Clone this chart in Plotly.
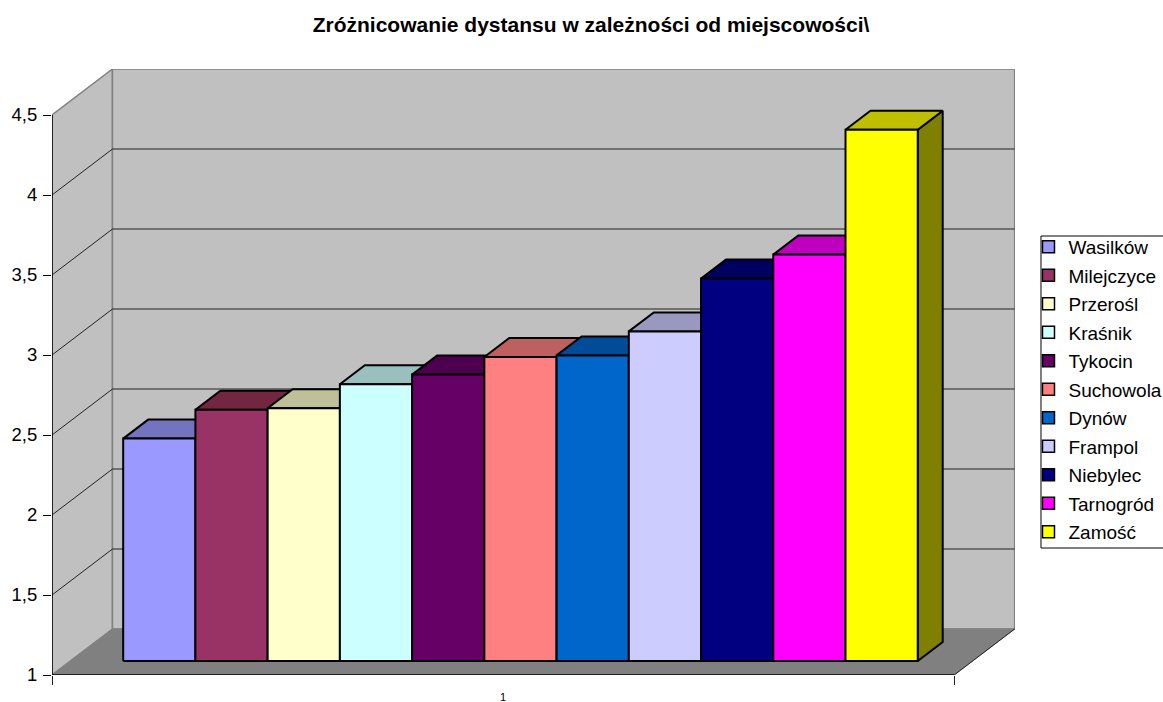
import plotly.graph_objects as go

towns = ["Wasilków", "Milejczyce", "Przerośl", "Kraśnik", "Tykocin", "Suchowola",
         "Dynów", "Frampol", "Niebylec", "Tarnogród", "Zamość"]
values = [2.39, 2.57, 2.58, 2.73, 2.79, 2.90, 2.91, 3.06, 3.39, 3.54, 4.32]
front_colors = ["#9999FF", "#993366", "#FFFFCC", "#CCFFFF", "#660066", "#FF8080",
                "#0066CC", "#CCCCFF", "#000080", "#FF00FF", "#FFFF00"]
top_colors = ["#7373BF", "#732640", "#BFBF99", "#99BFBF", "#4D004D", "#BF6060",
              "#004C99", "#9999BF", "#000060", "#BF00BF", "#BFBF00"]
side_colors = ["#4C4C80", "#4C1933", "#808066", "#668080", "#330033", "#804040",
               "#003366", "#666680", "#000040", "#800080", "#808000"]
y_ticks = [1, 1.5, 2, 2.5, 3, 3.5, 4, 4.5]
y_labels = ["1", "1,5", "2", "2,5", "3", "3,5", "4", "4,5"]
grid_levels = [1.5, 2, 2.5, 3, 3.5, 4]
category_label = "1"
title = "Zróżnicowanie dystansu w zależności od miejscowości\\"

# oblique projection of the 3D box into axis units
DX, DY = 0.837, 0.2875
SLOT_GAP = 0.731
AXIS_LEN = 12.49
D_FRONT, D_BACK = 0.304, 0.717
Y_BASE, Y_TOP = 1, 4.7875
L, R_EDGE, W, H = 51.5, 1015, 1163, 702
PLOT_W = R_EDGE - L
X_MAX = PLOT_W / 72.27


def pt(x, v, d):
    return x + d * DX, v + d * DY


def poly(points, fill, line="black", width=2, close=True):
    pts = [pt(*p) for p in points]
    if close:
        pts.append(pts[0])
    return go.Scatter(
        x=[p[0] for p in pts], y=[p[1] for p in pts], mode="lines",
        fill="toself" if fill else None, fillcolor=fill,
        line=dict(color=line, width=width), showlegend=False,
        hoverinfo="skip", cliponaxis=False,
    )


def xp(px):
    return (px - L) / PLOT_W


def yp(py):
    return (675 - py) / 606


fig = go.Figure()
WALL, FLOOR, EDGE = "#C0C0C0", "#808080", "#808080"
# side wall, back wall, floor
fig.add_trace(poly([(0, Y_BASE, 0), (0, 4.5, 0), (0, 4.5, 1), (0, Y_BASE, 1)], WALL, EDGE, 1.5))
fig.add_trace(poly([(0, Y_BASE, 1), (0, 4.5, 1), (AXIS_LEN, 4.5, 1), (AXIS_LEN, Y_BASE, 1)], WALL, EDGE, 1.5))
fig.add_trace(poly([(0, Y_BASE, 0), (AXIS_LEN, Y_BASE, 0), (AXIS_LEN, Y_BASE, 1), (0, Y_BASE, 1)], FLOOR, FLOOR, 1))
# grid lines on both walls
for lv in grid_levels:
    fig.add_trace(poly([(0, lv, 0), (0, lv, 1), (AXIS_LEN, lv, 1)], None, "#222222", 1, close=False))
# value axis, front and right floor edges
fig.add_trace(poly([(0, Y_BASE, 0), (0, 4.5, 0)], None, "black", 1.5, close=False))
fig.add_trace(poly([(0, Y_BASE, 0), (AXIS_LEN, Y_BASE, 0)], None, "black", 1.5, close=False))
fig.add_trace(poly([(AXIS_LEN, Y_BASE, 0), (AXIS_LEN, Y_BASE, 1)], None, "#222222", 1, close=False))

# bars
for i, v in enumerate(values):
    x0 = SLOT_GAP + i
    x1 = x0 + 1
    fig.add_trace(poly([(x1, Y_BASE, D_FRONT), (x1, Y_BASE, D_BACK), (x1, v, D_BACK), (x1, v, D_FRONT)], side_colors[i]))
    fig.add_trace(poly([(x0, v, D_FRONT), (x1, v, D_FRONT), (x1, v, D_BACK), (x0, v, D_BACK)], top_colors[i]))
    fig.add_trace(poly([(x0, Y_BASE, D_FRONT), (x1, Y_BASE, D_FRONT), (x1, v, D_FRONT), (x0, v, D_FRONT)], front_colors[i]))

# legend entries
for i, name in enumerate(towns):
    fig.add_trace(go.Scatter(
        x=[None], y=[None], mode="markers", name=name, legendgroup=name,
        marker=dict(symbol="square", size=12, color=front_colors[i], line=dict(color="black", width=1.5)),
    ))

fig.update_layout(
    width=W, height=H, autosize=False,
    margin=dict(l=L, r=W - R_EDGE, t=69, b=27, autoexpand=False),
    paper_bgcolor="white", plot_bgcolor="rgba(0,0,0,0)",
    font=dict(family="Liberation Sans, Arial, sans-serif", color="black", size=18),
    title=dict(text=f"<b>{title}</b>", x=591 / W, xanchor="center", y=1 - 25 / H, yanchor="middle",
               font=dict(size=21)),
    xaxis=dict(range=[0, X_MAX], showgrid=False, zeroline=False, showline=False,
               tickvals=[0, AXIS_LEN], ticktext=["", ""], ticks="outside", ticklen=9,
               tickwidth=1, tickcolor="#222222"),
    yaxis=dict(range=[Y_BASE, Y_TOP], showgrid=False, zeroline=False, showline=False,
               tickvals=y_ticks, ticktext=y_labels, ticks="outside", ticklen=8,
               tickwidth=1, tickcolor="black", tickfont=dict(size=18.5), ticklabelstandoff=2),
    legend=dict(x=xp(1039.5), xanchor="left", y=yp(228), yanchor="top",
                bgcolor="rgba(0,0,0,0)", borderwidth=0,
                font=dict(size=19), tracegroupgap=0.8, indentation=-11,
                itemclick=False, itemdoubleclick=False),
    shapes=[dict(type="rect", xref="paper", yref="paper", x0=xp(1041), x1=xp(1180), y0=yp(548), y1=yp(236),
                 line=dict(color="black", width=1), fillcolor="white", layer="below")],
    annotations=[dict(text=category_label, x=AXIS_LEN / 2, xref="x", y=yp(697), yref="paper",
                      yanchor="middle", showarrow=False, font=dict(size=11))],
    showlegend=True,
    hovermode=False,
)

fig.write_html("out.html", config={"displayModeBar": False},
               post_script="document.body.style.margin='0';")
